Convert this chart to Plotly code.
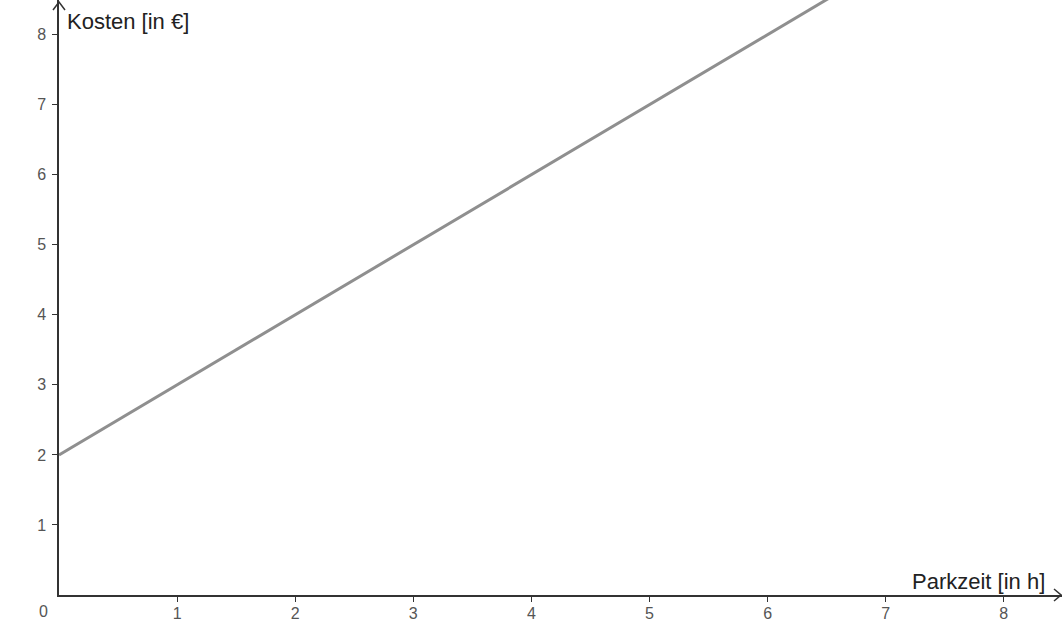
import plotly.graph_objects as go

# Data: parking cost = 2 € base + 1 € per hour
parkzeit = [0, 8]          # hours
kosten = [2, 10]           # euros
x_ticks = [1, 2, 3, 4, 5, 6, 7, 8]
y_ticks = [1, 2, 3, 4, 5, 6, 7, 8]
x_title = "Parkzeit [in h]"
y_title = "Kosten [in €]"

W, H = 1062, 630
L, B = 59, 35
px_per_x = 118.1
px_per_y = 70.05
x_max = (W - L) / px_per_x
y_max = (H - B) / px_per_y

axis_col = "#333333"
tick_font = dict(family="Liberation Sans, Arial, sans-serif", size=16, color="#555555")
title_font = dict(family="Liberation Sans, Arial, sans-serif", size=22, color="#222222")

fig = go.Figure()
fig.add_trace(go.Scatter(
    x=parkzeit, y=kosten, mode="lines",
    line=dict(color="#8f8f8f", width=3),
    hoverinfo="skip", showlegend=False,
))

fig.update_layout(
    width=W, height=H,
    margin=dict(l=L, r=0, t=0, b=B),
    paper_bgcolor="white", plot_bgcolor="white",
    xaxis=dict(range=[0, x_max], tickvals=x_ticks, ticktext=[str(v) for v in x_ticks],
               showgrid=False, zeroline=False, showline=True, linecolor=axis_col, linewidth=1.5,
               ticks="outside", ticklen=5, tickcolor=axis_col, tickwidth=1,
               tickfont=tick_font, ticklabelstandoff=-2, fixedrange=True),
    yaxis=dict(range=[0, y_max], tickvals=y_ticks, ticktext=[str(v) for v in y_ticks],
               showgrid=False, zeroline=False, showline=True, linecolor=axis_col, linewidth=1.5,
               ticks="outside", ticklen=5, tickcolor=axis_col, tickwidth=1,
               tickfont=tick_font, ticklabelstandoff=3, fixedrange=True),
    showlegend=False,
)

# axis arrow heads (open chevrons) in paper coordinates
def px2paper(px, py):
    return (px - L) / (W - L), (H - B - py) / (H - B)

ax1 = px2paper(1054, 589); ax2 = px2paper(1061, 595); ax3 = px2paper(1054, 601)
fig.add_shape(type="path", xref="paper", yref="paper",
              path=f"M {ax1[0]},{ax1[1]} L {ax2[0]},{ax2[1]} L {ax3[0]},{ax3[1]}",
              line=dict(color=axis_col, width=1.5))
ay1 = px2paper(53, 10); ay2 = px2paper(59, 2); ay3 = px2paper(65, 10)
fig.add_shape(type="path", xref="paper", yref="paper",
              path=f"M {ay1[0]},{ay1[1]} L {ay2[0]},{ay2[1]} L {ay3[0]},{ay3[1]}",
              line=dict(color=axis_col, width=1.5))

# axis titles
fig.add_annotation(xref="paper", yref="paper", x=px2paper(1047, 0)[0], y=px2paper(0, 581)[1],
                   text=x_title, showarrow=False, xanchor="right", yanchor="middle", font=title_font)
fig.add_annotation(xref="paper", yref="paper", x=px2paper(65, 0)[0], y=px2paper(0, 22)[1],
                   text=y_title, showarrow=False, xanchor="left", yanchor="middle", font=title_font)
# origin label
fig.add_annotation(xref="paper", yref="paper", x=px2paper(43, 0)[0], y=px2paper(0, 612)[1],
                   text="0", showarrow=False, xanchor="center", yanchor="middle", font=tick_font)

fig.write_html("out.html", config={"displayModeBar": False},
               post_script="document.body.style.margin='0';document.body.style.overflow='hidden';")
